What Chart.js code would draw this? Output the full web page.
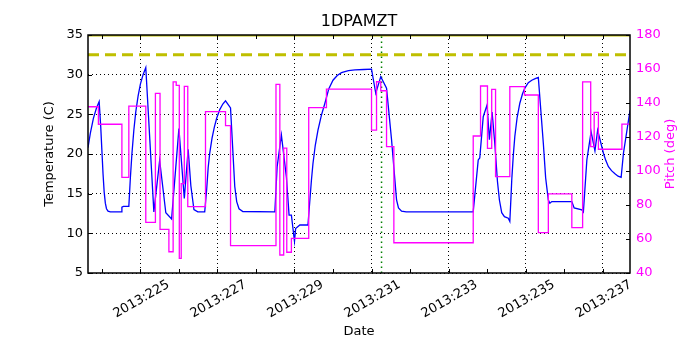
<!DOCTYPE html>
<html><head><meta charset="utf-8">
<script src="https://cdn.jsdelivr.net/npm/chart.js@4/dist/chart.umd.min.js"></script>
<style>html,body{margin:0;padding:0;background:#fff}</style>
</head><body>
<canvas id="c" width="700" height="350" style="display:block;width:700px;height:350px"></canvas>
<script>
// ---- data ----
const tempDays = [223.64, 223.70, 223.78, 223.86, 223.93, 223.97, 224.00, 224.03, 224.06, 224.09,
  224.12, 224.16, 224.22, 224.50, 224.52, 224.56, 224.70, 224.74, 224.78, 224.83,
  224.88, 224.94, 225.00, 225.07, 225.14, 225.35, 225.50, 225.66, 225.81, 226.00,
  226.14, 226.24, 226.31, 226.39, 226.49, 226.67, 226.72, 226.76, 226.80, 226.86,
  226.92, 226.98, 227.06, 227.14, 227.21, 227.34, 227.45, 227.50, 227.56, 227.66,
  228.49, 228.55, 228.66, 228.79, 228.86, 228.92, 229.00, 229.03, 229.14, 229.35,
  229.40, 229.44, 229.48, 229.54, 229.61, 229.70, 229.79, 229.89, 230.00, 230.11,
  230.22, 230.40, 230.57, 230.80, 231.00, 231.11, 231.24, 231.39, 231.52, 231.65,
  231.70, 231.78, 231.90, 233.64, 233.77, 233.81, 233.90, 234.00, 234.06, 234.13,
  234.20, 234.27, 234.32, 234.38, 234.45, 234.55, 234.59, 234.62, 234.64, 234.68,
  234.72, 234.78, 234.85, 234.92, 234.98, 235.07, 235.16, 235.25, 235.33, 235.46,
  235.52, 235.59, 235.63, 235.68, 236.20, 236.26, 236.46, 236.50, 236.59, 236.70,
  236.80, 236.87, 237.02, 237.08, 237.15, 237.23, 237.32, 237.40, 237.48, 237.54,
  237.71];
const tempValues = [20.8, 22.6, 24.5, 25.8, 26.6, 23.5, 20.5, 17.5, 15.2, 13.8,
  13.1, 12.8, 12.7, 12.7, 13.3, 13.4, 13.4, 17.0, 20.0, 23.0,
  25.3, 27.3, 28.8, 30.0, 30.9, 12.7, 19.2, 12.6, 11.8, 23.2,
  14.4, 20.6, 16.0, 13.0, 12.7, 12.7, 15.5, 18.3, 20.1, 22.0,
  23.4, 24.5, 25.6, 26.3, 26.7, 25.8, 15.9, 14.0, 13.1, 12.75,
  12.7, 18.4, 22.4, 17.1, 12.3, 12.3, 9.0, 10.6, 11.05, 11.05,
  14.2, 16.7, 18.8, 21.1, 23.0, 24.9, 26.4, 28.2, 29.3, 29.9,
  30.25, 30.5, 30.6, 30.65, 30.7, 27.65, 29.75, 28.3, 21.8, 14.2,
  13.2, 12.8, 12.7, 12.7, 19.25, 19.5, 24.7, 26.2, 21.8, 25.3,
  21.35, 16.5, 14.2, 12.6, 12.1, 11.9, 11.5, 14.5, 16.7, 19.8,
  22.2, 24.6, 26.4, 27.6, 28.3, 29.0, 29.3, 29.5, 29.65, 21.35,
  17.0, 14.2, 13.8, 14.0, 14.0, 13.2, 12.95, 12.7, 19.25, 22.8,
  20.4, 23.0, 20.1, 19.2, 18.4, 17.9, 17.5, 17.2, 17.05, 20.1,
  25.5];
const pitchDays = [223.64, 223.91, 224.52, 224.70, 225.14, 225.39, 225.51, 225.74, 225.85, 225.93,
  226.01, 226.06, 226.14, 226.23, 226.69, 227.21, 227.34, 228.52, 228.62, 228.72,
  228.80, 228.92, 229.37, 229.83, 231.00, 231.13, 231.24, 231.39, 231.58, 233.64,
  233.83, 234.01, 234.12, 234.22, 234.59, 234.97, 235.33, 235.59, 236.20, 236.48,
  236.69, 236.78, 236.89, 237.50, 237.71];
const pitchValues = [137.8, 127.5, 96.3, 138.2, 69.8, 145.7, 65.7, 52.5, 152.4, 150.4,
  48.6, 92.6, 149.8, 79.0, 134.9, 126.7, 56.1, 151.0, 50.6, 113.4,
  52.2, 60.4, 137.3, 148.2, 124.1, 152.5, 147.2, 114.3, 57.8, 120.6,
  150.0, 113.3, 148.0, 96.7, 149.6, 144.7, 63.7, 86.5, 66.7, 152.4,
  114.3, 134.5, 112.8, 127.6, 127.6];
const limitTemp = 32.5;      // yellow dashed limit
const upperTemp = 35;        // yellow solid line at the top
const markerDay = 231.26;    // green dotted vertical
const xRange = [223.64, 237.71];
const tempRange = [5, 35];
const pitchRange = [40, 180];
const xTickDays = [224, 225, 226, 227, 228, 229, 230, 231, 232, 233, 234, 235, 236, 237];
const xLabelDays = [225, 227, 229, 231, 233, 235, 237];
const tempTicks = [5, 10, 15, 20, 25, 30, 35];
const pitchTicks = [40, 60, 80, 100, 120, 140, 160, 180];
const yearPrefix = '2013:';

// ---- chart ----
Chart.defaults.font.family = "'DejaVu Sans', sans-serif";
Chart.defaults.font.size = 13;
Chart.defaults.color = '#000';

const pts = (xs, ys) => xs.map((x, i) => ({x: x, y: ys[i]}));

const decor = {
  id: 'decor',
  afterDatasetsDraw(chart) {
    const {ctx, chartArea: a, scales} = chart;
    ctx.save();
    ctx.strokeStyle = '#000';
    ctx.lineWidth = 1;
    ctx.beginPath();
    xTickDays.forEach(d => {
      const x = Math.round(scales.x.getPixelForValue(d)) + 0.5;
      ctx.moveTo(x, a.bottom); ctx.lineTo(x, a.bottom - 4);
      ctx.moveTo(x, a.top); ctx.lineTo(x, a.top + 4);
    });
    tempTicks.forEach(v => {
      const y = Math.round(scales.y.getPixelForValue(v)) + 0.5;
      ctx.moveTo(a.left, y); ctx.lineTo(a.left + 4, y);
    });
    pitchTicks.forEach(v => {
      const y = Math.round(scales.y2.getPixelForValue(v)) + 0.5;
      ctx.moveTo(a.right, y); ctx.lineTo(a.right - 4, y);
    });
    ctx.stroke();
    ctx.lineWidth = 1.5;
    ctx.strokeRect(a.left, a.top, a.right - a.left, a.bottom - a.top);
    ctx.fillStyle = '#ff00ff';
    ctx.font = "13px 'DejaVu Sans', sans-serif";
    ctx.textAlign = 'center';
    ctx.textBaseline = 'middle';
    ctx.translate(a.right + 41, (a.top + a.bottom) / 2);
    ctx.rotate(-Math.PI / 2);
    ctx.fillText('Pitch (deg)', 0, 0);
    ctx.restore();
  }
};

new Chart(document.getElementById('c'), {
  type: 'line',
  data: {
    datasets: [
      {label: 'Pitch', data: pts(pitchDays, pitchValues), yAxisID: 'y2', stepped: true,
       borderColor: '#ff00ff', borderWidth: 1.3, pointRadius: 0, fill: false, order: 0},
      {label: 'Temperature', data: pts(tempDays, tempValues), yAxisID: 'y',
       borderColor: '#0000ff', borderWidth: 1.3, pointRadius: 0, tension: 0, fill: false, order: 1},
      {label: 'Limit', data: pts(xRange, [limitTemp, limitTemp]), yAxisID: 'y',
       borderColor: '#bfbf00', borderWidth: 3, borderDash: [11, 6], pointRadius: 0, fill: false, order: 2},
      {label: 'Upper', data: pts(xRange, [upperTemp, upperTemp]), yAxisID: 'y',
       borderColor: '#bfbf00', borderWidth: 3, pointRadius: 0, fill: false, order: 3},
      {label: 'Marker', data: pts([markerDay, markerDay], tempRange), yAxisID: 'y',
       borderColor: '#008000', borderWidth: 1.5, borderDash: [1.5, 3.5], pointRadius: 0, fill: false, order: 2}
    ]
  },
  options: {
    responsive: false,
    animation: false,
    devicePixelRatio: 1,
    layout: {padding: {left: 18, right: 0, top: 0, bottom: 0}},
    plugins: {
      legend: {display: false},
      tooltip: {enabled: false},
      title: {display: true, text: '1DPAMZT', color: '#000',
              font: {size: 16, weight: 'normal'}, padding: {top: 12.4, bottom: 3.4}}
    },
    scales: {
      x: {
        type: 'linear', position: 'bottom', min: xRange[0], max: xRange[1],
        afterBuildTicks: s => { s.ticks = xTickDays.map(v => ({value: v})); },
        afterFit: s => { s.height = 77; },
        ticks: {
          autoSkip: false, minRotation: 30, maxRotation: 30, padding: 4, labelOffset: 28,
          color: '#000',
          callback: v => (xLabelDays.includes(v) ? yearPrefix + v : '')
        },
        grid: {
          drawTicks: false, lineWidth: 1,
          color: c => (c.tick && xLabelDays.includes(c.tick.value) ? '#000' : 'rgba(0,0,0,0)')
        },
        border: {display: false, dash: [1, 3]},
        title: {display: true, text: 'Date', color: '#000', font: {size: 13}, padding: {top: 0, bottom: 11}}
      },
      y: {
        position: 'left', min: tempRange[0], max: tempRange[1],
        afterBuildTicks: s => { s.ticks = tempTicks.map(v => ({value: v})); },
        afterFit: s => { s.width = 70; },
        ticks: {color: '#000', padding: 5},
        grid: {drawTicks: false, color: '#000', lineWidth: 1},
        border: {display: false, dash: [1, 3]},
        title: {display: true, text: 'Temperature (C)', color: '#000', font: {size: 13}, padding: {top: 24, bottom: 0}}
      },
      y2: {
        position: 'right', min: pitchRange[0], max: pitchRange[1],
        afterBuildTicks: s => { s.ticks = pitchTicks.map(v => ({value: v})); },
        afterFit: s => { s.width = 70; },
        ticks: {color: '#ff00ff', padding: 6},
        grid: {drawOnChartArea: false, drawTicks: false},
        border: {display: false}
      }
    }
  },
  plugins: [decor]
});
</script>
</body></html>
